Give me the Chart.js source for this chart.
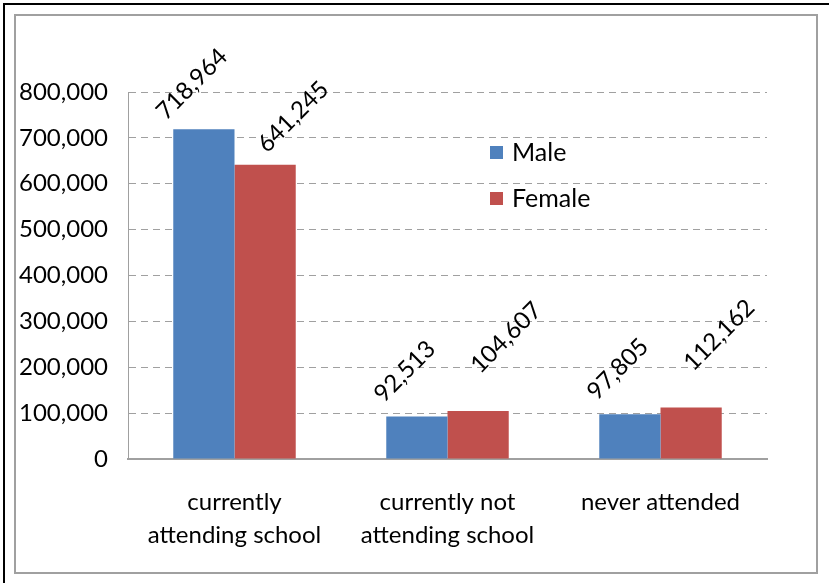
<!DOCTYPE html>
<html>
<head>
<meta charset="utf-8">
<script src="https://cdn.jsdelivr.net/npm/chart.js@4.4.0/dist/chart.umd.min.js"></script>
<style>
  html, body { margin: 0; padding: 0; background: #fff; }
  #wrap { width: 829px; height: 583px; }
</style>
</head>
<body>
<div id="wrap"><canvas id="grafico-escolaridad" width="829" height="583"></canvas></div>
<script>
// datos del grafico
var categorias = [['currently', 'attending school'], ['currently not', 'attending school'], ['never attended']];
var valoresMale = [718964, 92513, 97805];
var valoresFemale = [641245, 104607, 112162];
var nombresSeries = ['Male', 'Female'];
var coloresSeries = ['#4F81BD', '#C0504D'];
var ticksY = [0, 100000, 200000, 300000, 400000, 500000, 600000, 700000, 800000];

var fuente = 'Lato, "Open Sans", sans-serif';
var tam = 24;

function formato(n) {
    return n.toLocaleString('en-US');
}

// marco, leyenda y etiquetas
var marco = {
    id: 'marco',
    beforeDraw: function (chart) {
        var ctx = chart.ctx;
        ctx.save();
        ctx.fillStyle = '#fff';
        ctx.fillRect(0, 0, chart.width, chart.height);
        ctx.fillStyle = '#000';
        ctx.fillRect(3, 3, 826, 2);
        ctx.fillRect(3, 3, 2, 580);
        ctx.strokeStyle = '#a0a0a0';
        ctx.lineWidth = 2;
        ctx.strokeRect(15, 15, 802, 558);
        ctx.restore();
    }
};

var leyenda = {
    id: 'leyenda',
    afterDraw: function (chart) {
        var ctx = chart.ctx;
        ctx.save();
        ctx.font = '25px ' + fuente;
        ctx.textBaseline = 'middle';
        ctx.textAlign = 'left';
        chart.data.datasets.forEach(function (ds, i) {
            var y = 146 + i * 46;
            ctx.fillStyle = ds.backgroundColor;
            ctx.fillRect(490, y, 13, 13);
            ctx.fillStyle = '#000';
            ctx.fillText(ds.label, 512, y + 7);
        });
        ctx.restore();
    }
};

var etiquetas = {
    id: 'etiquetas',
    afterDatasetsDraw: function (chart) {
        var ctx = chart.ctx;
        var m = chart.getDatasetMeta(0);
        var f = chart.getDatasetMeta(1);
        ctx.save();
        ctx.font = tam + 'px ' + fuente;
        ctx.fillStyle = '#000';
        ctx.textAlign = 'center';
        ctx.textBaseline = 'middle';
        function escribir(txt, x, y) {
            ctx.save();
            ctx.translate(x, y);
            ctx.rotate(-Math.PI / 4);
            ctx.fillText(txt, 0, 0);
            ctx.restore();
        }
        m.data.forEach(function (bar, i) {
            var fb = f.data[i];
            var mx = bar.x - 12, my = bar.y - 45;
            var fx = fb.x + 28, fy = fb.y - 48;
            if (valoresFemale[i] > valoresMale[i]) fy = my - 34;
            escribir(formato(valoresMale[i]), mx, my);
            escribir(formato(valoresFemale[i]), fx, fy);
        });
        ctx.restore();
    }
};

const ctx = document.getElementById('grafico-escolaridad');
var myChart = new Chart(ctx, {
    type: 'bar',
    data: {
        labels: categorias,
        datasets: [{
            label: nombresSeries[0],
            data: valoresMale,
            backgroundColor: coloresSeries[0]
        }, {
            label: nombresSeries[1],
            data: valoresFemale,
            backgroundColor: coloresSeries[1]
        }]
    },
    options: {
        responsive: false,
        animation: false,
        devicePixelRatio: 1,
        categoryPercentage: 0.575,
        barPercentage: 1,
        layout: {
            padding: { left: 0, top: 92, right: 62, bottom: 0 }
        },
        plugins: {
            legend: { display: false },
            tooltip: { enabled: false }
        },
        scales: {
            x: {
                afterFit: function (s) { s.height = 124; },
                grid: { display: false, drawTicks: false },
                border: { display: true, color: '#a0a0a0', width: 2 },
                ticks: {
                    color: '#000',
                    padding: 26,
                    maxRotation: 0,
                    font: { family: fuente, size: tam, lineHeight: 1.4 }
                }
            },
            y: {
                min: 0,
                max: ticksY[ticksY.length - 1],
                afterFit: function (s) { s.width = 128; },
                afterBuildTicks: function (s) {
                    s.ticks = ticksY.map(function (v) { return { value: v }; });
                },
                grid: {
                    drawTicks: false,
                    color: function (c) { return c.tick && c.tick.value === 0 ? 'rgba(0,0,0,0)' : '#a0a0a0'; },
                    lineWidth: 1
                },
                border: { display: true, color: '#a0a0a0', width: 1, dash: [7, 5] },
                ticks: {
                    color: '#000',
                    padding: 20,
                    font: { family: fuente, size: tam },
                    callback: function (v) { return formato(v); }
                }
            }
        }
    },
    plugins: [marco, leyenda, etiquetas]
});
</script>
</body>
</html>
